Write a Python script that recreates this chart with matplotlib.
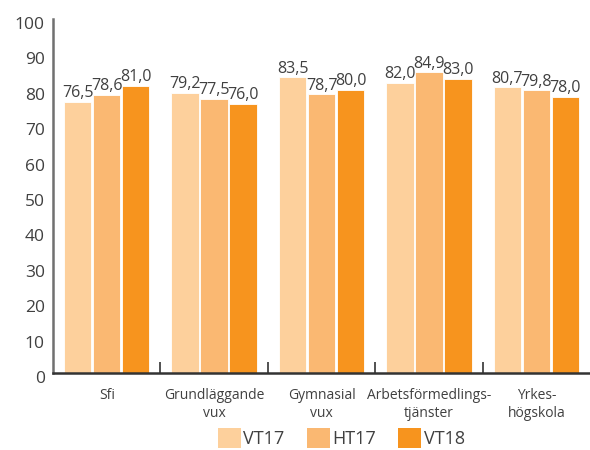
import matplotlib
matplotlib.use("Agg")
import matplotlib.pyplot as plt
import matplotlib.transforms as mtransforms
import numpy as np
from matplotlib.patches import Patch

categories = ["Sfi", "Grundläggande\nvux", "Gymnasial\nvux", "Arbetsförmedlings-\ntjänster", "Yrkes-\nhögskola"]
series_names = ["VT17", "HT17", "VT18"]
vt17 = [76.5, 79.2, 83.5, 82.0, 80.7]
ht17 = [78.6, 77.5, 78.7, 84.9, 79.8]
vt18 = [81.0, 76.0, 80.0, 83.0, 78.0]
colors = ["#FDD09C", "#FAB872", "#F7941E"]
yticks = [0, 10, 20, 30, 40, 50, 60, 70, 80, 90, 100]

plt.rcParams['font.family'] = ['Open Sans', 'DejaVu Sans']
txt = "#404040"

fig = plt.figure(figsize=(5.9, 4.5), dpi=100)
ax = fig.add_axes([0.09, 0.171, 0.91, 0.787])

x = np.arange(len(categories))
w = 0.255
offs = [-0.27, 0.0, 0.27]
for vals, c, o in zip([vt17, ht17, vt18], colors, offs):
    bars = ax.bar(x + o, vals, w, color=c, edgecolor="white", linewidth=0.6)
    for b, v in zip(bars, vals):
        ax.text(b.get_x() + b.get_width() / 2, v + 0.2, f"{v:.1f}".replace(".", ","),
                ha="center", va="bottom", fontsize=11.5, color=txt)

ax.set_xlim(-0.5, len(categories) - 0.5)
ax.set_ylim(0, 100)
ax.set_yticks(yticks)
ax.set_yticklabels([str(t) for t in yticks], fontsize=12.5, color=txt)
ax.tick_params(axis="y", length=0, pad=6)
shift = mtransforms.ScaledTranslation(0, -4 / 100, fig.dpi_scale_trans)
for lab in ax.get_yticklabels():
    lab.set_transform(lab.get_transform() + shift)

ax.set_xticks(np.arange(0.5, len(categories) - 0.5, 1.0))
ax.set_xticklabels([])
ax.tick_params(axis="x", direction="in", length=8, width=1.2, color="#333333")
for xi, lab in zip(x, categories):
    ax.text(xi, -4.2, lab, ha="center", va="top", fontsize=10, color=txt,
            linespacing=1.25, transform=ax.transData)

for s in ["top", "right"]:
    ax.spines[s].set_visible(False)
ax.spines["left"].set_color("#707070")
ax.spines["left"].set_linewidth(1.8)
ax.spines["bottom"].set_color("#333333")
ax.spines["bottom"].set_linewidth(1.8)

handles = [Patch(facecolor=c, edgecolor="none") for c in colors]
fig.legend(handles, series_names, loc="center", bbox_to_anchor=(0.578, 0.027),
           ncol=3, frameon=False, fontsize=13, handlelength=1.28, handleheight=1.3,
           columnspacing=1.25, handletextpad=0.12, labelcolor=txt,
           borderpad=0, borderaxespad=0)

fig.savefig("out.png", dpi=100)
